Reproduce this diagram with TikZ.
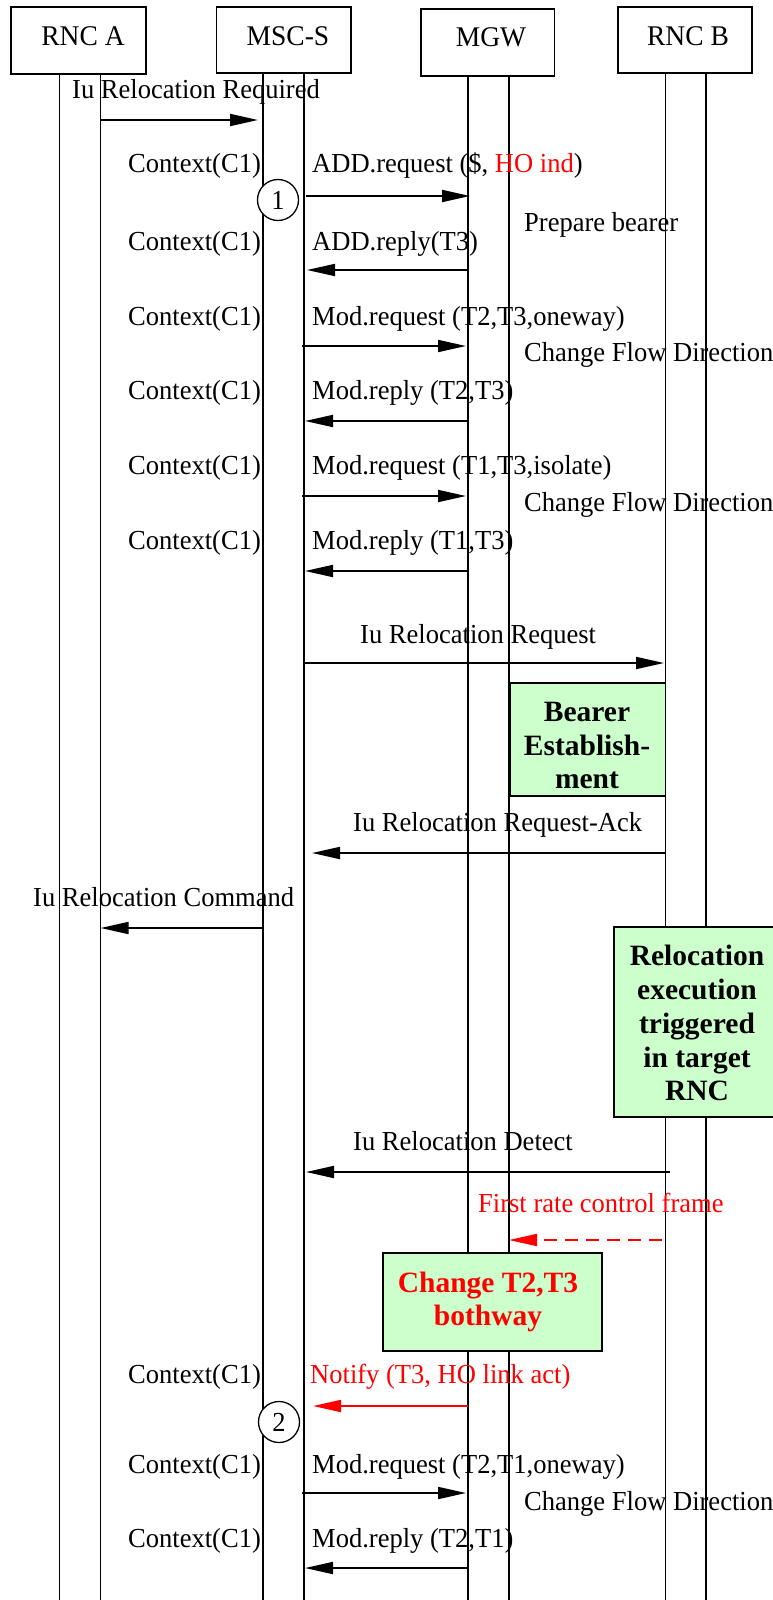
\documentclass[tikz,border=0pt]{standalone}
\usepackage{fontspec}
\setmainfont{Liberation Serif}[FakeStretch=0.965]
\newfontfamily\boldserif{Liberation Serif}
\usetikzlibrary{arrows.meta}
\definecolor{boxgreen}{HTML}{CCFFCC}
\begin{document}
\begin{tikzpicture}[x=1pt,y=-1pt,
  every node/.style={inner sep=0pt, font=\fontsize{27.5}{33.5}\selectfont},
  lbl/.style={anchor=base west},
  ctr/.style={anchor=base, font=\fontsize{28.5}{33.5}\selectfont},
  bf/.style={anchor=base, font=\fontsize{29.5}{33.5}\boldserif\bfseries},
  life/.style={line width=1.3pt},
  msg/.style={line width=1.8pt, -{Triangle[length=28pt,width=12pt]}},
  hdr/.style={draw, line width=1.3pt, fill=white},
  act/.style={draw, line width=1.6pt, fill=boxgreen},
  num/.style={draw, circle, line width=1.3pt, fill=white, minimum size=41pt}
]
\useasboundingbox (0,0) rectangle (773,1600);
% header boxes
\node[hdr, minimum width=135pt, minimum height=67pt] (rncaBox) at (78.5,40.5) {};
\node[hdr, minimum width=134.5pt, minimum height=66pt] (mscBox) at (283.75,40) {};
\node[hdr, minimum width=133.5pt, minimum height=67pt] (mgwBox) at (487.75,42.5) {};
\node[hdr, minimum width=134pt, minimum height=66pt] (rncbBox) at (685,40) {};
\node[ctr] (rncaT) at (83,46) {RNC A};
\node[ctr] (mscT) at (288,46) {MSC-S};
\node[ctr] (mgwT) at (491,47) {MGW};
\node[ctr] (rncbT) at (688,46) {RNC B};
% lifelines
\draw[life] (59.5,74) -- (59.5,1600);
\draw[life] (100.6,74) -- (100.6,1600);
\draw[life] (263,73) -- (263,1600);
\draw[life] (304,73) -- (304,1600);
\draw[life] (468,76) -- (468,1600);
\draw[life] (509,76) -- (509,1600);
\draw[life] (665.5,73) -- (665.5,1600);
\draw[life] (706,73) -- (706,1600);
% message end points
\coordinate (m1s) at (100.6,120);  \coordinate (m1e) at (258,120);
\coordinate (m2s) at (306,196);    \coordinate (m2e) at (470,196);
\coordinate (m3s) at (468,270);    \coordinate (m3e) at (307,270);
\coordinate (m4s) at (302,346);    \coordinate (m4e) at (466,346);
\coordinate (m5s) at (468,421);    \coordinate (m5e) at (305,421);
\coordinate (m6s) at (302,496);    \coordinate (m6e) at (466,496);
\coordinate (m7s) at (468,571);    \coordinate (m7e) at (305,571);
\coordinate (m8s) at (305,663);    \coordinate (m8e) at (664,663);
\coordinate (m9s) at (665,853);    \coordinate (m9e) at (312,853);
\coordinate (m10s) at (263,928);   \coordinate (m10e) at (100.6,928);
\coordinate (m11s) at (670,1172);  \coordinate (m11e) at (306,1172);
\coordinate (m12s) at (661.5,1240);\coordinate (m12e) at (509,1240);
\coordinate (m13s) at (468,1406);  \coordinate (m13e) at (313,1406);
\coordinate (m14s) at (302,1493);  \coordinate (m14e) at (466,1493);
\coordinate (m15s) at (468,1568);  \coordinate (m15e) at (305,1568);
% messages
\draw[msg] (m1s) -- (m1e);
\draw[msg] (m2s) -- (m2e);
\draw[msg] (m3s) -- (m3e);
\draw[msg] (m4s) -- (m4e);
\draw[msg] (m5s) -- (m5e);
\draw[msg] (m6s) -- (m6e);
\draw[msg] (m7s) -- (m7e);
\draw[msg] (m8s) -- (m8e);
\draw[msg] (m9s) -- (m9e);
\draw[msg] (m10s) -- (m10e);
\draw[msg] (m11s) -- (m11e);
\draw[msg, red, dash pattern=on 13pt off 8pt] (m12s) -- (m12e);
\draw[msg, red] (m13s) -- (m13e);
\draw[msg] (m14s) -- (m14e);
\draw[msg] (m15s) -- (m15e);
% activity boxes
\node[act, minimum width=155.5pt, minimum height=113pt] (bearerBox) at (587.75,739.5) {};
\node[act, minimum width=170pt, minimum height=190pt] (relBox) at (699,1022) {};
\node[act, minimum width=219pt, minimum height=98pt] (chgBox) at (492.5,1302) {};
\node[bf] (b1) at (587,721) {Bearer};
\node[bf] (b2) at (587,755) {Establish-};
\node[bf] (b3) at (587,788) {ment};
\node[bf] (r1) at (697,965) {Relocation};
\node[bf] (r2) at (697,999) {execution};
\node[bf] (r3) at (697,1033) {triggered};
\node[bf] (r4) at (697,1067) {in target};
\node[bf] (r5) at (697,1100) {RNC};
\node[bf, text=red] (g1) at (488,1292) {Change T2,T3};
\node[bf, text=red] (g2) at (488,1325) {bothway};
% numbered circles
\node[num] (n1) at (278,200) {1};
\node[num] (n2) at (279,1422) {2};
% labels
\node[lbl] (t1) at (72,99) {Iu Relocation Required};
\node[lbl] (c1) at (128,172) {Context(C1)};
\node[lbl] (t2) at (312,172) {ADD.request (\$, \textcolor{red}{HO ind})};
\node[lbl] (t3) at (524,231) {Prepare bearer};
\node[lbl] (c2) at (128,250) {Context(C1)};
\node[lbl] (t4) at (312,250) {ADD.reply(T3)};
\node[lbl] (c3) at (128,325) {Context(C1)};
\node[lbl] (t5) at (312,325) {Mod.request (T2,T3,oneway)};
\node[lbl] (t6) at (524,361) {Change Flow Direction};
\node[lbl] (c4) at (128,399) {Context(C1)};
\node[lbl] (t7) at (312,399) {Mod.reply (T2,T3)};
\node[lbl] (c5) at (128,474) {Context(C1)};
\node[lbl] (t8) at (312,474) {Mod.request (T1,T3,isolate)};
\node[lbl] (t9) at (524,511) {Change Flow Direction};
\node[lbl] (c6) at (128,549) {Context(C1)};
\node[lbl] (t10) at (312,549) {Mod.reply (T1,T3)};
\node[lbl] (t11) at (360,643) {Iu Relocation Request};
\node[lbl] (t12) at (353,831) {Iu Relocation Request-Ack};
\node[lbl] (t13) at (33,906) {Iu Relocation Command};
\node[lbl] (t14) at (353,1150) {Iu Relocation Detect};
\node[lbl, text=red] (t15) at (478,1212) {First rate control frame};
\node[lbl] (c7) at (128,1383) {Context(C1)};
\node[lbl, text=red] (t16) at (310,1383) {Notify (T3, HO link act)};
\node[lbl] (c8) at (128,1473) {Context(C1)};
\node[lbl] (t17) at (312,1473) {Mod.request (T2,T1,oneway)};
\node[lbl] (t18) at (524,1510) {Change Flow Direction};
\node[lbl] (c9) at (128,1547) {Context(C1)};
\node[lbl] (t19) at (312,1547) {Mod.reply (T2,T1)};
\end{tikzpicture}
\end{document}
